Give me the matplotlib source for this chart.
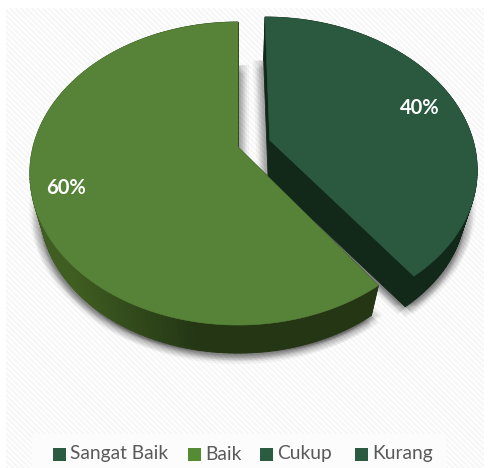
import numpy as np
import matplotlib
matplotlib.use("Agg")
import matplotlib.pyplot as plt
from matplotlib.patches import Polygon, Rectangle

# data
categories = ["Sangat Baik", "Baik", "Cukup", "Kurang"]
legend_colors = ["#2b5b41", "#558b32", "#2b5b41", "#2b5b41"]
slice_values = [60, 40]
slice_labels = ["60%", "40%"]

# pie projection, in pixels of the 489x468 image
APEX = (238, 147)
A, B, K = 146.9, 205.0, 0.175
EXPLODE = (0.156, 0.047)
DEPTH_SCALE, DEPTH_SHIFT = 0.95, 37

TOP_COLORS = ["#568338", "#2b5940"]


def project(xp, yp):
    w = 1 + K * yp
    return APEX[0] + B * xp / w, APEX[1] - A * yp / w


def lower(x, y):
    return APEX[0] + (x - APEX[0]) * DEPTH_SCALE, APEX[1] + (y - APEX[1]) * DEPTH_SCALE + DEPTH_SHIFT


def slice_outline(start, stop, offset=(0, 0)):
    # angles are clockwise from 12 o'clock, in degrees
    t = np.radians(np.linspace(start, stop, 160))
    xp = np.r_[offset[0], np.sin(t) + offset[0]]
    yp = np.r_[offset[1], np.cos(t) + offset[1]]
    return np.column_stack(project(xp, yp))


def draw_slice(ax, outline, top_color, side_color, side_dark):
    low = np.column_stack(lower(outline[:, 0], outline[:, 1]))
    n = len(outline)
    # side walls, back to front
    edges = sorted(range(n), key=lambda i: outline[i, 1] + outline[(i + 1) % n, 1])
    for i in edges:
        j = (i + 1) % n
        frac = np.clip((outline[i, 0] - 70) / 130, 0, 1)
        col = np.array(side_color) * (1 - frac) + np.array(side_dark) * frac
        ax.add_patch(Polygon([outline[i], outline[j], low[j], low[i]],
                             closed=True, fc=col, ec=col, lw=0.6, zorder=3))
    ax.add_patch(Polygon(outline, closed=True, fc=top_color, ec=top_color, lw=0.4, zorder=4))


def draw_shadow(ax, outline):
    # soft grey edge: stacked see-through copies of the lower outline
    low = np.column_stack(lower(outline[:, 0], outline[:, 1]))
    for grow in [11, 9, 7, 5, 3]:
        for dx, dy in [(grow, 0), (-grow, 0), (0, grow), (0.7 * grow, 0.7 * grow), (-0.7 * grow, 0.7 * grow)]:
            ax.add_patch(Polygon(low + [dx, dy], closed=True, fc="black", ec="none",
                                 alpha=0.04, zorder=2))


fig = plt.figure(figsize=(4.89, 4.68), dpi=100)
ax = fig.add_axes([0, 0, 1, 1])
ax.set_xlim(0, 489)
ax.set_ylim(468, 0)
ax.axis("off")
fig.patch.set_facecolor("white")

# faint diagonal hatching of the chart area
for c in np.arange(-480, 500, 5.5):
    ax.plot([c, c + 480], [8, 488], color="#f6f6f6", lw=1.5, zorder=0,
            solid_capstyle="butt")
ax.add_patch(Rectangle((0, 0), 6, 468, fc="white", ec="none", zorder=0.5))
ax.add_patch(Rectangle((0, 0), 489, 8, fc="white", ec="none", zorder=0.5))
ax.add_patch(Rectangle((484, 0), 5, 468, fc="white", ec="none", zorder=0.5))
ax.add_patch(Rectangle((32, 434), 414, 34, fc="#fcfcfc", ec="none", zorder=1))

# slices run from the 12 o'clock line: first one counter-clockwise, second clockwise
shares = np.array(slice_values) / sum(slice_values) * 360
green = slice_outline(-shares[0], 0)
dark = slice_outline(0, shares[1], EXPLODE)

draw_shadow(ax, green)
draw_shadow(ax, dark)
draw_slice(ax, green, TOP_COLORS[0], (0.25, 0.37, 0.13), (0.14, 0.21, 0.08))
draw_slice(ax, dark, TOP_COLORS[1], (0.06, 0.15, 0.10), (0.07, 0.16, 0.10))

label_pos = [(66, 188), (420, 108)]
for txt, (x, y) in zip(slice_labels, label_pos):
    ax.text(x, y, txt, color="white", fontsize=14.5, fontweight="bold",
            family="Lato", ha="center", va="center", zorder=6)

# legend
marker_x = [53, 188, 260, 355]
text_x = [70, 205, 277, 372]
for name, col, mx, tx in zip(categories, legend_colors, marker_x, text_x):
    ax.add_patch(Rectangle((mx, 448), 13, 13, fc=col, ec="none", zorder=6))
    ax.text(tx, 454, name, color="#595959", fontsize=13.8, family="Lato",
            ha="left", va="center", zorder=6)

fig.savefig("out.png", dpi=100)
